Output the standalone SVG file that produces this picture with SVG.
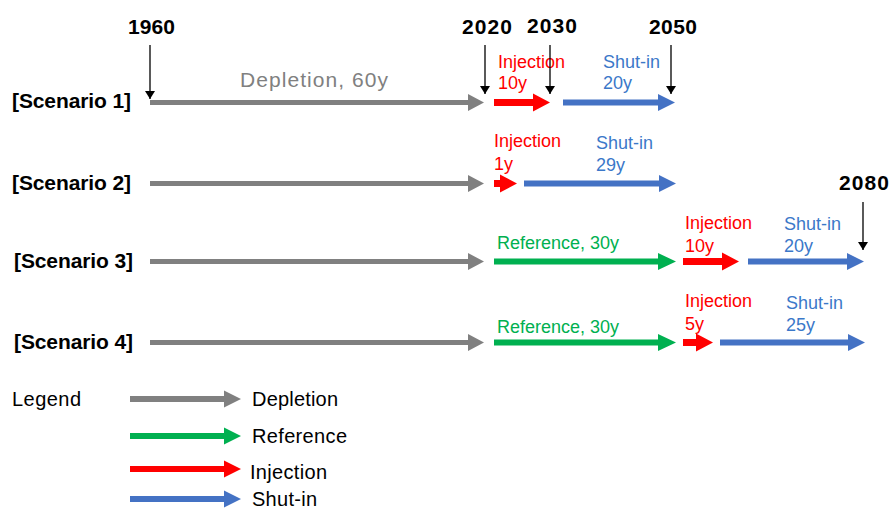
<svg xmlns="http://www.w3.org/2000/svg" width="892" height="509" viewBox="0 0 892 509">
<style>
text{font-family:"Liberation Sans",Arial,sans-serif}
.yr{font-size:21px;font-weight:bold;fill:#000}
.sc{font-size:21px;font-weight:bold;fill:#000}
.lb{font-size:18px}
.lg{font-size:20px;fill:#000}
.inj{fill:#ff0000}
.shu{fill:#3b78c9}
.ref{fill:#00b050}
.dep{fill:#808080}
.ptr{stroke:#000;stroke-width:1.3;fill:none;marker-end:url(#ah)}
.g{fill:#808080}.r{fill:#ff0000}.b{fill:#4472c4}.gr{fill:#00b050}
</style>
<defs>
<marker id="ah" viewBox="0 0 8 10" refX="8" refY="5" markerWidth="8" markerHeight="10" markerUnits="userSpaceOnUse" orient="auto">
<path d="M0,0 L8,5 L0,10 Z" fill="#000"/>
</marker>
</defs>

<g id="years">
<text class="yr" x="128" y="34" textLength="47">1960</text>
<text class="yr" x="462" y="34" textLength="50">2020</text>
<text class="yr" x="527" y="33" textLength="50">2030</text>
<text class="yr" x="649" y="34" textLength="48">2050</text>
<text class="yr" x="839" y="190" textLength="50">2080</text>
</g>

<g id="scenario-labels">
<text class="sc" x="12" y="108" textLength="119">[Scenario 1]</text>
<text class="sc" x="12" y="190" textLength="119">[Scenario 2]</text>
<text class="sc" x="14" y="268" textLength="119">[Scenario 3]</text>
<text class="sc" x="14" y="349" textLength="119">[Scenario 4]</text>
</g>

<g id="row1-labels">
<text class="dep" x="240" y="87" font-size="21" textLength="148">Depletion, 60y</text>
<text class="lb inj" x="498" y="68">Injection</text>
<text class="lb inj" x="498" y="89">10y</text>
<text class="lb shu" x="603" y="68">Shut-in</text>
<text class="lb shu" x="603" y="89">20y</text>
</g>
<g id="row2-labels">
<text class="lb inj" x="494" y="147">Injection</text>
<text class="lb inj" x="494" y="170">1y</text>
<text class="lb shu" x="596" y="149">Shut-in</text>
<text class="lb shu" x="596" y="171">29y</text>
</g>
<g id="row3-labels">
<text class="lb ref" x="497" y="249">Reference, 30y</text>
<text class="lb inj" x="685" y="229">Injection</text>
<text class="lb inj" x="685" y="252">10y</text>
<text class="lb shu" x="784" y="230">Shut-in</text>
<text class="lb shu" x="784" y="252">20y</text>
</g>
<g id="row4-labels">
<text class="lb ref" x="497" y="333">Reference, 30y</text>
<text class="lb inj" x="685" y="307">Injection</text>
<text class="lb inj" x="685" y="330">5y</text>
<text class="lb shu" x="786" y="309">Shut-in</text>
<text class="lb shu" x="786" y="331">25y</text>
</g>

<g id="legend">
<text class="lg" x="12" y="406" textLength="69">Legend</text>
<polygon class="g" points="130,396 224,396 224,390.5 241,399 224,407.5 224,402 130,402"/>
<polygon class="gr" points="130,433 224,433 224,427.5 241,436 224,444.5 224,439 130,439"/>
<polygon class="r" points="130,466 224,466 224,460.5 241,469 224,477.5 224,472 130,472"/>
<polygon class="b" points="130,496 224,496 224,490.5 241,499 224,507.5 224,502 130,502"/>
<text class="lg" x="252" y="406" textLength="86">Depletion</text>
<text class="lg" x="252" y="443" textLength="95">Reference</text>
<text class="lg" x="250" y="479" textLength="77">Injection</text>
<text class="lg" x="252" y="506" textLength="65">Shut-in</text>
</g>

<g id="connectors">
<line class="ptr" x1="150" y1="45" x2="150" y2="99"/>
<line class="ptr" x1="485" y1="45" x2="485" y2="94"/>
<line class="ptr" x1="550" y1="45" x2="550" y2="94"/>
<line class="ptr" x1="671" y1="45" x2="671" y2="94"/>
<line class="ptr" x1="863" y1="202" x2="863" y2="250"/>

<polygon class="g" points="150,100 468,100 468,94 484,102.5 468,111 468,105 150,105"/>
<polygon class="r" points="494,99 533,99 533,93.5 550,102.5 533,111.5 533,106 494,106"/>
<polygon class="b" points="563,99.5 658,99.5 658,94 675,102.5 658,111 658,105.5 563,105.5"/>

<polygon class="g" points="150,181 468,181 468,175 484,183.5 468,192 468,186 150,186"/>
<polygon class="r" points="494,180 500,180 500,174.5 517,183.5 500,192.5 500,187 494,187"/>
<polygon class="b" points="524,180.5 659,180.5 659,175 676,183.5 659,192 659,186.5 524,186.5"/>

<polygon class="g" points="150,259 468,259 468,253 484,261.5 468,270 468,264 150,264"/>
<polygon class="gr" points="494,258.5 658,258.5 658,253 676,261.5 658,270 658,264.5 494,264.5"/>
<polygon class="r" points="683,258 722,258 722,252.5 739,261.5 722,270.5 722,265 683,265"/>
<polygon class="b" points="748,258.5 847,258.5 847,253 864,261.5 847,270 847,264.5 748,264.5"/>

<polygon class="g" points="150,340 468,340 468,334 484,342.5 468,351 468,345 150,345"/>
<polygon class="gr" points="494,339.5 658,339.5 658,334 676,342.5 658,351 658,345.5 494,345.5"/>
<polygon class="r" points="683,339 696,339 696,333.5 713,342.5 696,351.5 696,346 683,346"/>
<polygon class="b" points="720,339.5 848,339.5 848,334 865,342.5 848,351 848,345.5 720,345.5"/>
</g>
</svg>
